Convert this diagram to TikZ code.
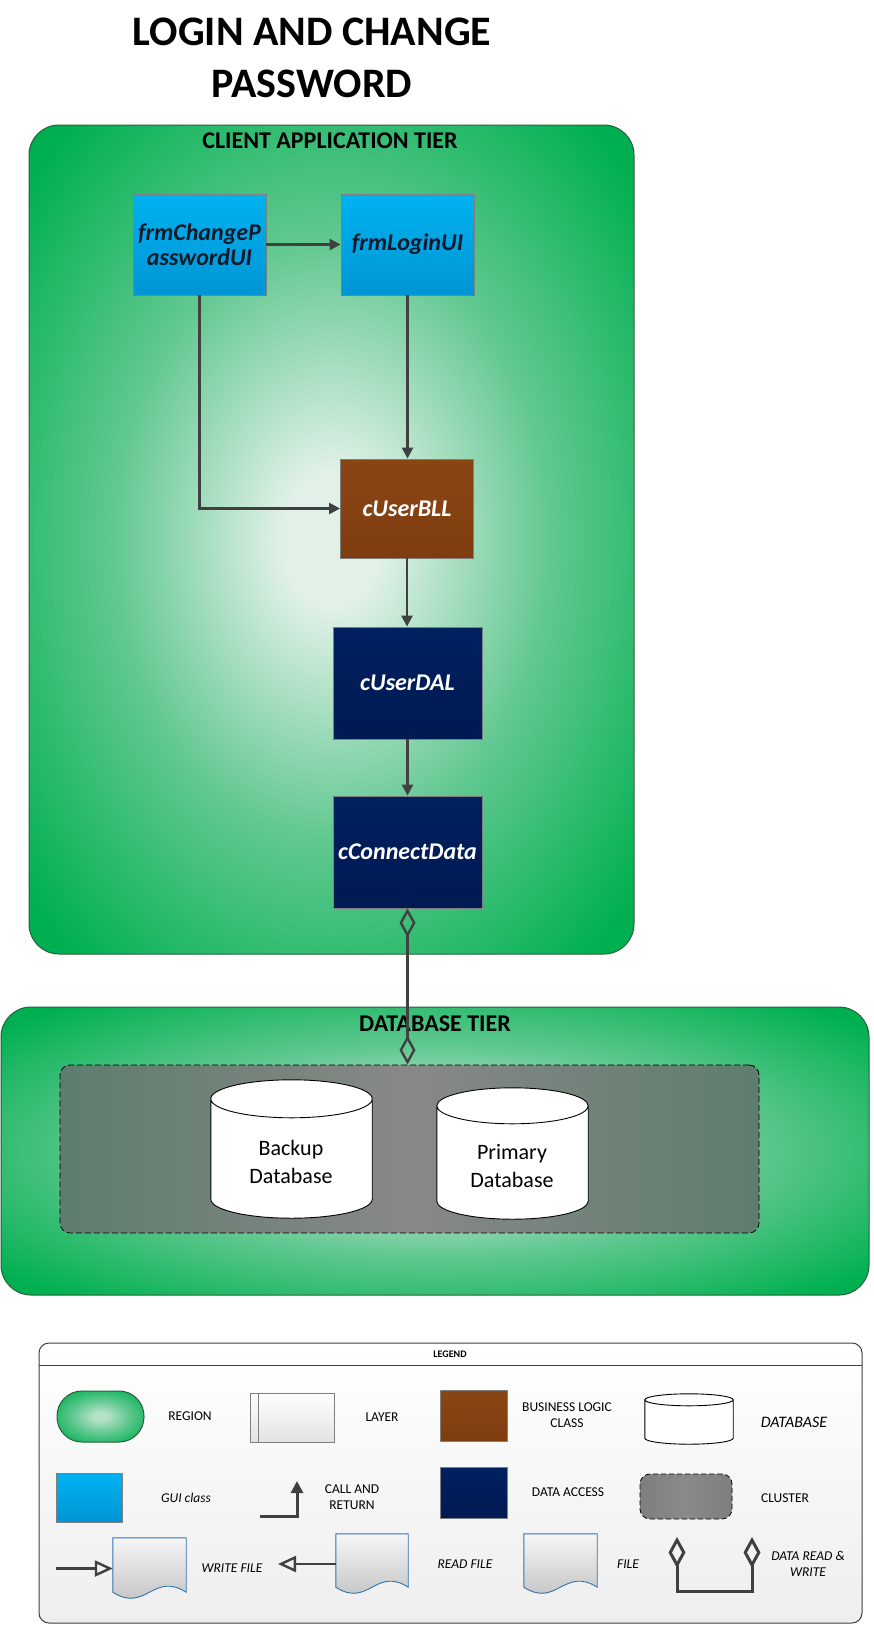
\documentclass[tikz,border=0pt]{standalone}
\usepackage{fontspec}
\setmainfont{Carlito}
\usetikzlibrary{arrows.meta,calc}
\definecolor{rgreen}{HTML}{00B050}
\definecolor{rmid}{HTML}{62C891}
\definecolor{rpale}{HTML}{E2F1E8}
\definecolor{regedge}{HTML}{2A5E3C}
\definecolor{guitop}{HTML}{00B2F0}
\definecolor{guibot}{HTML}{0095D4}
\definecolor{guitext}{HTML}{0E1A2C}
\definecolor{bllc}{HTML}{8B4513}
\definecolor{bllbot}{HTML}{7E3D10}
\definecolor{navy}{HTML}{002060}
\definecolor{navybot}{HTML}{001A52}
\definecolor{boxedge}{HTML}{7F7F7F}
\definecolor{conn}{HTML}{404040}
\definecolor{clgreen}{HTML}{5E7D6C}
\definecolor{clgray}{HTML}{888888}
\definecolor{filetop}{HTML}{F6F6F6}
\definecolor{filebot}{HTML}{BCBCBC}
\definecolor{fileline}{HTML}{2E75B6}
\definecolor{legbot}{HTML}{EEEEEE}
\definecolor{laybot}{HTML}{E2E2E2}
\definecolor{lclside}{HTML}{7E7E7E}
\definecolor{lclmid}{HTML}{8A8A8A}
\definecolor{lglowc}{HTML}{B4E2C6}
\pgfdeclareradialshading{glow}{\pgfpointorigin}{color(0bp)=(rpale); color(4bp)=(rpale); color(18bp)=(rmid); color(33bp)=(rgreen); color(50bp)=(rgreen)}
\pgfdeclareradialshading{glowsmall}{\pgfpointorigin}{color(0bp)=(lglowc); color(4bp)=(lglowc); color(16bp)=(rmid); color(32bp)=(rgreen); color(50bp)=(rgreen)}
\newcommand\cylshape[2]{%
  \path let \p1=(#1.north west), \p2=(#1.south east), \n1={(\x2-\x1)/2} in
    [cylstyle] (\x1,{\y1-#2pt}) -- (\x1,{\y2+#2pt})
    arc[start angle=180,end angle=360,x radius=\n1,y radius=#2pt]
    -- (\x2,{\y1-#2pt})
    arc[start angle=0,end angle=180,x radius=\n1,y radius=#2pt] -- cycle
    ({(\x1+\x2)/2},{\y1-#2pt}) ellipse[x radius=\n1,y radius=#2pt];}
\newcommand\docshape[1]{%
  \path let \p1=(#1.north west), \p2=(#1.south east), \n1={\x2-\x1} in
    [filestyle] (\x1,\y1) -- (\x2,\y1) -- (\x2,{\y2+7pt})
    .. controls ({\x1+0.55*\n1},{\y2+28pt}) and ({\x1+0.45*\n1},{\y2-14pt}) .. (\x1,{\y2+7pt}) -- cycle;}
\begin{document}
\begin{tikzpicture}[x=1pt,y=-1pt,
  region/.style={draw=regedge, line width=1pt, shade, shading=glow},
  tier/.style={font=\fontsize{24}{27}\selectfont\bfseries},
  cls/.style={draw=boxedge, line width=0.8pt, inner sep=2pt, align=center,
    font=\fontsize{24}{25}\selectfont\bfseries\itshape},
  gui/.style={cls, top color=guitop, bottom color=guibot, text=guitext,
    minimum width=133pt, minimum height=101pt},
  bllbox/.style={cls, top color=bllc, bottom color=bllbot, text=white,
    minimum width=133pt, minimum height=99pt},
  dalbox/.style={cls, top color=navy, bottom color=navybot, text=white,
    minimum width=149pt, minimum height=112pt},
  link/.style={draw=conn, line width=2.4pt, -{Triangle[length=11pt,width=11pt]}},
  dataline/.style={draw=conn, line width=2.4pt,
    {Diamond[open,length=29pt,width=16pt]}-{Diamond[open,length=29pt,width=16pt]}},
  cluster/.style={draw=black, line width=0.8pt, dash pattern=on 6pt off 3pt,
    rounded corners=10pt, left color=clgreen, right color=clgreen, middle color=clgray},
  cylstyle/.style={draw=black, line width=0.9pt, fill=white},
  dbtext/.style={align=center, font=\fontsize{22}{28}\selectfont},
  filestyle/.style={draw=fileline, line width=0.9pt, top color=filetop, bottom color=filebot},
  ltext/.style={align=center, font=\fontsize{13.5}{16}\selectfont},
  litext/.style={align=center, font=\fontsize{13.5}{16}\selectfont\itshape},
  openarrow/.style={draw=conn, line width=2.4pt, -{Triangle[open,length=18pt,width=16pt]}},
]
\useasboundingbox (0,0) rectangle (873,1628);

% title
\node[align=center, font=\fontsize{42}{52}\selectfont\bfseries] (title) at (312,58)
  {LOGIN AND CHANGE\\PASSWORD};

% client application tier
\node[region, rounded corners=30pt, minimum width=605pt, minimum height=829pt] (client) at (331.5,539.5) {};
\node[tier] (clientlbl) at (330,141) {CLIENT APPLICATION TIER};

% database tier
\node[region, rounded corners=30pt, minimum width=868pt, minimum height=288pt] (dbtier) at (435,1151) {};
\node[tier] (dblbl) at (435,1024) {DATABASE TIER};
\node[cluster, minimum width=699pt, minimum height=168pt] (clus) at (409.5,1149) {};

% databases
\node[minimum width=161pt, minimum height=138pt, inner sep=0pt] (bdbbox) at (291.5,1149) {};
\cylshape{bdbbox}{19}
\node[dbtext] (bdb) at (291,1162) {Backup\\Database};
\node[minimum width=151pt, minimum height=131pt, inner sep=0pt] (pdbbox) at (512.5,1153.5) {};
\cylshape{pdbbox}{18}
\node[dbtext] (pdb) at (512,1166) {Primary\\Database};

% classes
\node[gui] (chg) at (199.5,244.5) {frmChangeP\\asswordUI};
\node[gui] (login) at (407.5,244.5) {frmLoginUI};
\node[bllbox] (bll) at (407,508.5) {cUserBLL};
\node[dalbox] (dal) at (407.5,683) {cUserDAL};
\node[dalbox] (conn) at (407.5,852) {cConnectData};

% connectors
\draw[link] (chg.east) -- (login.west);
\draw[link] (chg.south) |- (bll.west);
\draw[link] (login.south) -- (login.south |- bll.north);
\draw[link] (bll.south) -- (bll.south |- dal.north);
\draw[link] (dal.south) -- (conn.north);
\draw[dataline] (conn.south) -- (conn.south |- clus.north);

% legend
\node[draw=conn, line width=1pt, rounded corners=10pt, top color=white, bottom color=legbot,
  minimum width=823pt, minimum height=280pt] (legend) at (450.5,1483) {};
\coordinate (lgl) at (39,1365);
\coordinate (lgr) at (862,1365);
\draw[conn, line width=0.8pt] (lgl) -- (lgr);
\node[font=\fontsize{10}{12}\selectfont\bfseries] (legendlbl) at (450,1354) {LEGEND};

% row 1
\node[draw=regedge, line width=1pt, shade, shading=glowsmall, rounded corners=25pt,
  minimum width=87pt, minimum height=51pt] (lreg) at (100.5,1416.5) {};
\node[ltext] (lregt) at (190,1416) {REGION};
\node[draw=boxedge, line width=0.8pt, top color=white, bottom color=laybot,
  minimum width=84pt, minimum height=49pt] (llay) at (292,1417.5) {};
\draw[boxedge, line width=0.8pt] ([xshift=9pt]llay.north west) -- ([xshift=9pt]llay.south west);
\node[ltext] (llayt) at (382,1417) {LAYER};
\node[draw=boxedge, line width=0.8pt, top color=bllc, bottom color=bllbot,
  minimum width=67pt, minimum height=51pt] (lbll) at (473.5,1415.5) {};
\node[ltext] (lbllt) at (567,1415) {BUSINESS LOGIC\\CLASS};
\node[minimum width=88pt, minimum height=50pt, inner sep=0pt] (ldb) at (689,1419) {};
\cylshape{ldb}{6}
\node[font=\fontsize{16}{19}\selectfont\itshape] (ldbt) at (794,1422) {DATABASE};

% row 2
\node[draw=boxedge, line width=0.8pt, top color=guitop, bottom color=guibot,
  minimum width=66pt, minimum height=49pt] (lgui) at (89,1497.5) {};
\node[litext] (lguit) at (186,1498) {GUI class};
\coordinate (cr1) at (260,1516);
\coordinate (cr2) at (297,1481);
\draw[draw=conn, line width=3pt, -{Triangle[length=12pt,width=12pt]}] (cr1) -| (cr2);
\node[ltext] (lcrt) at (352,1497) {CALL AND\\RETURN};
\node[draw=boxedge, line width=0.8pt, top color=navy, bottom color=navybot,
  minimum width=67pt, minimum height=51pt] (ldal) at (473.5,1492.5) {};
\node[ltext] (ldalt) at (568,1492) {DATA ACCESS};
\node[draw=black, line width=0.8pt, dash pattern=on 5pt off 3pt, rounded corners=10pt,
  left color=lclside, right color=lclside, middle color=lclmid,
  minimum width=92pt, minimum height=45pt] (lclu) at (686,1496.5) {};
\node[ltext] (lclut) at (785,1498) {CLUSTER};

% row 3
\node[minimum width=73pt, minimum height=61pt, inner sep=0pt] (wfile) at (149.5,1568.5) {};
\docshape{wfile}
\coordinate (wf0) at (56,1568.5);
\draw[openarrow] (wf0) -- (wfile.west);
\node[litext] (wft) at (232,1568) {WRITE FILE};
\node[minimum width=72pt, minimum height=60pt, inner sep=0pt] (rfile) at (372,1564) {};
\docshape{rfile}
\coordinate (rf1) at (278,1564);
\draw[openarrow] (rfile.west) -- (rf1);
\node[litext] (rft) at (465,1564) {READ FILE};
\node[minimum width=73pt, minimum height=60pt, inner sep=0pt] (ffile) at (560.5,1564) {};
\docshape{ffile}
\node[litext] (fft) at (628,1564) {FILE};
\coordinate (drw1) at (677,1537);
\coordinate (drwb) at (715,1591);
\coordinate (drw2) at (752,1537);
\draw[draw=conn, line width=3pt,
  {Diamond[open,length=31pt,width=17pt]}-{Diamond[open,length=31pt,width=17pt]}]
  (drw1) |- (drwb) -| (drw2);
\node[litext] (drwt) at (808,1564) {DATA READ \&\\WRITE};
\end{tikzpicture}
\end{document}
